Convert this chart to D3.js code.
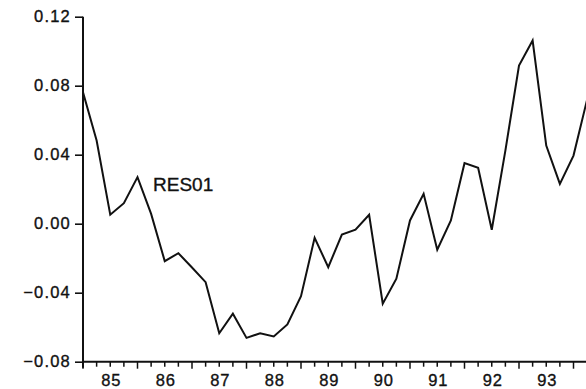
<!DOCTYPE html>
<html>
<head>
<meta charset="utf-8">
<script src="https://cdn.jsdelivr.net/npm/d3@7"></script>
<style>
  html, body { margin: 0; padding: 0; background: #fff; }
  svg { display: block; }
  text { font-family: "Liberation Sans", Arial, Helvetica, sans-serif; fill: #111; stroke: #111; stroke-width: 0.35px; }
</style>
</head>
<body>
<svg id="chart" width="586" height="389"></svg>
<script>
// Quarterly observations, starting 1985Q1
const startYear = 1985;
const res01 = [
  0.0762, 0.0482, 0.0052, 0.0119,
  0.0270, 0.0057, -0.0217, -0.0171,
  -0.0254, -0.0339, -0.0635, -0.0522,
  -0.0662, -0.0635, -0.0654, -0.0584,
  -0.0420, -0.0082, -0.0252, -0.0063,
  -0.0034, 0.0052, -0.0464, -0.0319,
  0.0019, 0.0173, -0.0151, 0.0019,
  0.0351, 0.0324, -0.0035, 0.0424,
  0.0917, 0.1062, 0.0453, 0.0231,
  0.0395, 0.0720
];
const yTicks = [-0.08, -0.04, 0.00, 0.04, 0.08, 0.12];
const yearLabels = ["85", "86", "87", "88", "89", "90", "91", "92", "93"];
const seriesName = "RES01";

const svg = d3.select("#chart");
const pLeft = 83, pRight = 586, pTop = 16.7, pBottom = 361.7;
const pxPerYear = 54.5;

const x = d3.scaleLinear()
  .domain([startYear, startYear + (pRight - pLeft) / pxPerYear])
  .range([pLeft, pRight]);
const y = d3.scaleLinear().domain([-0.08, 0.12]).range([pBottom, pTop]);

svg.append("defs").append("clipPath").attr("id", "clip")
  .append("rect").attr("x", pLeft).attr("y", 0).attr("width", pRight - pLeft).attr("height", 389);

// Y axis
const yAxis = d3.axisLeft(y).tickValues(yTicks).tickFormat(d3.format(".2f"))
  .tickSize(8).tickPadding(4);
const gy = svg.append("g").attr("transform", `translate(${pLeft},0)`).call(yAxis);
gy.select(".domain").remove();
gy.selectAll(".tick line").attr("stroke", "#111").attr("stroke-width", 1.6);
gy.selectAll(".tick text").attr("font-size", 16.5).attr("letter-spacing", 1.2)
  .attr("font-family", "Liberation Sans, Arial, sans-serif").attr("fill", "#111");
gy.append("line").attr("x1", 0).attr("x2", 0).attr("y1", pTop).attr("y2", pBottom + 6)
  .attr("stroke", "#111").attr("stroke-width", 2);

// X axis: quarterly ticks, long ticks at year starts
const dom = x.domain();
const qTicks = [];
for (let t = startYear; t <= dom[1] + 1e-9; t += 0.25) qTicks.push(t);
const gx = svg.append("g");
gx.append("line").attr("x1", pLeft).attr("x2", pRight).attr("y1", pBottom).attr("y2", pBottom)
  .attr("stroke", "#111").attr("stroke-width", 2);
gx.selectAll("line.tick").data(qTicks).join("line")
  .attr("class", "tick")
  .attr("x1", d => x(d)).attr("x2", d => x(d))
  .attr("y1", pBottom)
  .attr("y2", d => Math.abs(d - Math.round(d)) < 1e-6 ? pBottom + 7 : pBottom + 5)
  .attr("stroke", "#111").attr("stroke-width", 1.5);
gx.selectAll("text").data(yearLabels).join("text")
  .attr("x", (d, i) => x(startYear + i + 0.5) + 1)
  .attr("y", 386)
  .attr("text-anchor", "middle")
  .attr("font-size", 16.5).attr("letter-spacing", 0.8)
  .text(d => d);

// Line
const line = d3.line()
  .x((d, i) => x(startYear + i / 4))
  .y(d => y(d));
svg.append("path").datum(res01)
  .attr("clip-path", "url(#clip)")
  .attr("d", line)
  .attr("fill", "none").attr("stroke", "#111").attr("stroke-width", 2)
  .attr("stroke-linejoin", "miter");

// Series label
svg.append("text").attr("x", 153).attr("y", 191)
  .attr("font-size", 19).text(seriesName);
</script>
</body>
</html>
